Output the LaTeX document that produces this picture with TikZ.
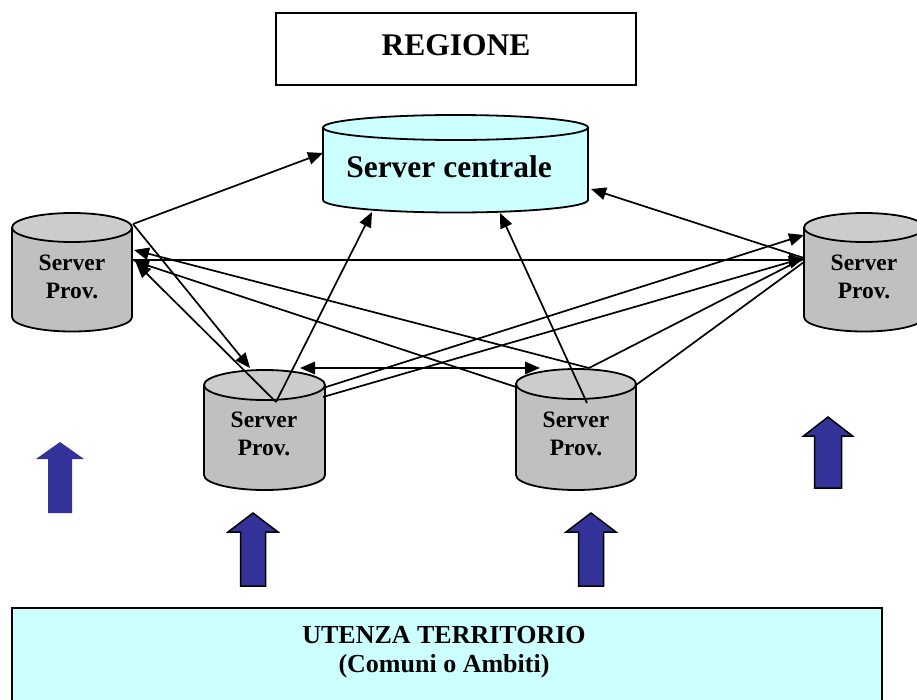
\documentclass[tikz,border=0pt]{standalone}
\usepackage{fontspec}
\setmainfont{Liberation Serif}
\usetikzlibrary{arrows.meta}
\definecolor{provgray}{HTML}{C0C0C0}
\definecolor{provtop}{HTML}{CCCCCC}
\definecolor{paleaqua}{HTML}{CCFFFF}
\definecolor{navyblue}{HTML}{333399}

% drum: #1 centre x, #2 x radius, #3 top-ellipse y, #4 bottom-ellipse y, #5 y radius, #6 body fill, #7 top fill
\newcommand\drawdrum[7]{%
  \path[fill=#6] (#1-#2,#3) -- (#1-#2,#4)
     arc[start angle=180,end angle=0,x radius=#2,y radius=#5] -- (#1+#2,#3) -- cycle;
  \draw[drumline] (#1-#2,#3) -- (#1-#2,#4)
     arc[start angle=180,end angle=0,x radius=#2,y radius=#5] -- (#1+#2,#3);
  \draw[drumline,fill=#7] (#1,#3) ellipse[x radius=#2,y radius=#5];
}
% block arrow pointing up: #1 centre x, #2 tip y, #3 head base y, #4 bottom y, #5 half head width, #6 half shaft width, #7 style
\newcommand\uparrowblock[7]{%
  \path[#7] (#1,#2) -- (#1+#5,#3) -- (#1+#6,#3) -- (#1+#6,#4) -- (#1-#6,#4)
     -- (#1-#6,#3) -- (#1-#5,#3) -- cycle;
}

\begin{document}
\begin{tikzpicture}[x=1pt,y=-1pt,
  drumline/.style={line width=1.8pt},
  boxline/.style={draw=black,line width=1.8pt},
  tip/.tip={Triangle[length=15pt,width=12.5pt]},
  link/.style={line width=1.7pt,-tip},
  bothlink/.style={line width=1.7pt,tip-tip},
  plainlink/.style={line width=1.7pt},
  provlabel/.style={font=\fontsize{23.5}{28}\selectfont\bfseries,align=center,inner sep=0pt},
  bigtitle/.style={font=\fontsize{31.5}{36}\selectfont\bfseries,inner sep=0pt},
  userlabel/.style={font=\fontsize{26}{29}\selectfont\bfseries,inner sep=0pt,anchor=base},
  blockblue/.style={fill=navyblue,draw=black,line width=1.5pt},
  blockbluesoft/.style={fill=navyblue}]

\clip (0,0) rectangle (917,699);
\fill[white] (0,0) rectangle (917,699);

% top title box
\draw[boxline,fill=white] (276,13) rectangle (636,85);
\node[bigtitle,anchor=base] (regione) at (456,55) {REGIONE};

% central server
\drawdrum{455.5}{132.5}{127.5}{200}{12.5}{paleaqua}{paleaqua}
\node[bigtitle,anchor=base] (centrale) at (449,177) {Server centrale};

% provincial servers
\drawdrum{72}{60}{227.5}{317}{14.5}{provgray}{provtop}
\drawdrum{864}{60}{227.5}{317}{14.5}{provgray}{provtop}
\drawdrum{264.5}{60.5}{385}{475}{15}{provgray}{provtop}
\drawdrum{576}{60}{384}{475}{15}{provgray}{provtop}
\node[provlabel] (provL)  at (72,277)  {Server\\Prov.};
\node[provlabel] (provR)  at (864,277) {Server\\Prov.};
\node[provlabel] (provB1) at (264,434) {Server\\Prov.};
\node[provlabel] (provB2) at (576,434) {Server\\Prov.};

% users box
\draw[boxline,fill=paleaqua] (12,608) rectangle (882,720);
\node[userlabel] (utenza) at (444,643) {UTENZA TERRITORIO};
\node[userlabel] (ambiti) at (444,672) {(Comuni o Ambiti)};

% block arrows
\uparrowblock{60}{442}{459}{513}{24}{12}{blockbluesoft}
\uparrowblock{253}{513}{532}{586}{25}{12.5}{blockblue}
\uparrowblock{591}{513}{532}{586}{25}{12.5}{blockblue}
\uparrowblock{828}{417}{436}{488}{24.5}{13.5}{blockblue}

% attachment points
\coordinate (C-w)  at (323,153);
\coordinate (C-s1) at (372,212);
\coordinate (C-s2) at (500,213);
\coordinate (C-e)  at (591,189);
\coordinate (L-ne) at (133,224);
\coordinate (L-e1) at (134,250);
\coordinate (L-e2) at (133,260);
\coordinate (L-e3) at (134,261);
\coordinate (L-e4) at (136,263);
\coordinate (R-w1) at (804,235);
\coordinate (R-w2) at (804,258);
\coordinate (R-w)  at (804,260);
\coordinate (R-w3) at (804,262);
\coordinate (B1-t) at (250,368);
\coordinate (B1-v) at (276,402);
\coordinate (B1-n) at (300,368);
\coordinate (B1-e1) at (323,388);
\coordinate (B1-e2) at (323,397);
\coordinate (B2-n) at (540,368);
\coordinate (B2-t) at (589,368);
\coordinate (B2-v) at (587,403);
\coordinate (B2-w) at (516,387);
\coordinate (B2-e) at (636,385);

% links
\draw[link] (L-ne) -- (C-w);
\draw[link] (L-ne) -- (B1-t);
\draw[link] (B1-v) -- (L-e4);
\draw[link] (B1-v) -- (C-s1);
\draw[link] (L-e2) -- (R-w);
\draw[link] (B2-t) -- (L-e1);
\draw[link] (B2-w) -- (L-e3);
\draw[link] (B2-v) -- (C-s2);
\draw[link] (R-w2) -- (C-e);
\draw[link] (B1-e1) -- (R-w1);
\draw[link] (B1-e2) -- (R-w2);
\draw[plainlink] (B2-t) -- (R-w2);
\draw[plainlink] (B2-e) -- (R-w3);
\draw[bothlink] (B1-n) -- (B2-n);
\end{tikzpicture}
\end{document}
